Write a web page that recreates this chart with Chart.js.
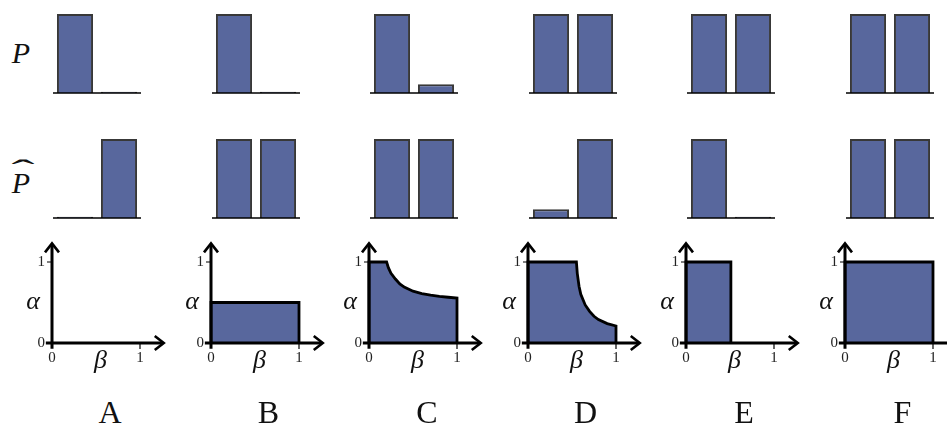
<!DOCTYPE html>
<html>
<head>
<meta charset="utf-8">
<script src="https://cdn.jsdelivr.net/npm/chart.js@4.4.0/dist/chart.umd.min.js"></script>
<style>
body{margin:0;background:#fff;width:947px;height:429px;position:relative;overflow:hidden;font-family:"Liberation Serif",serif}
canvas{position:absolute}
.txt{position:absolute;transform:translate(-50%,-50%);white-space:nowrap;color:#111;line-height:1}
.row{font-style:italic;font-size:30px}
.hat{font-size:30px;transform:translate(-50%,-50%) scaleX(2.3)}
.col{font-size:32px}
</style>
</head>
<body>
<script>
// data
const columns = ['A', 'B', 'C', 'D', 'E', 'F'];
const barLabels = ['1', '2'];
const pValues = [[1, 0.015], [1, 0.015], [1, 0.11], [1, 1], [1, 1], [1, 1]];
const pHatValues = [[0.015, 1], [1, 1], [1, 1], [0.11, 1], [1, 0.015], [1, 1]];

// alpha-beta regions, points as [beta, alpha]
const regionA = [];
const regionB = [[0, 0], [0, 0.5], [1, 0.5], [1, 0]];
const regionC = [[0, 0], [0, 1], [0.2, 1], [0.22, 0.93], [0.25, 0.86], [0.3, 0.79], [0.35, 0.73],
  [0.4, 0.69], [0.5, 0.64], [0.6, 0.61], [0.7, 0.59], [0.8, 0.575], [0.9, 0.565], [1, 0.555], [1, 0]];
const regionD = [[0, 0], [0, 1], [0.55, 1], [0.56, 0.86], [0.58, 0.7], [0.6, 0.6], [0.65, 0.47],
  [0.7, 0.39], [0.75, 0.33], [0.8, 0.29], [0.9, 0.24], [1, 0.21], [1, 0]];
const regionE = [[0, 0], [0, 1], [0.51, 1], [0.51, 0]];
const regionF = [[0, 0], [0, 1], [1, 1], [1, 0]];
const regions = [regionA, regionB, regionC, regionD, regionE, regionF];

const fillColor = '#58679d';
const colStep = 158.5;

function addCanvas(left, top, w, h) {
  const c = document.createElement('canvas');
  c.width = w; c.height = h;
  c.style.left = left + 'px';
  c.style.top = top + 'px';
  document.body.appendChild(c);
  return c;
}

function addText(text, x, y, cls) {
  const d = document.createElement('div');
  d.className = 'txt ' + cls;
  d.style.left = x + 'px';
  d.style.top = y + 'px';
  d.textContent = text;
  document.body.appendChild(d);
}

const baseline = {
  id: 'baseline',
  afterDatasetsDraw(chart) {
    const {ctx, chartArea, scales} = chart;
    const y0 = scales.y.getPixelForValue(0);
    ctx.save();
    ctx.strokeStyle = '#000';
    ctx.lineWidth = 1.3;
    ctx.beginPath();
    ctx.moveTo(chartArea.left, y0);
    ctx.lineTo(chartArea.right, y0);
    ctx.stroke();
    ctx.restore();
  }
};

function barChart(left, top, vals) {
  const c = addCanvas(left - 4, top - 8, 96, 92);
  new Chart(c, {
    type: 'bar',
    data: {
      labels: barLabels,
      datasets: [{
        data: vals,
        backgroundColor: fillColor,
        borderColor: '#383838',
        borderWidth: 2,
        categoryPercentage: 1,
        barPercentage: 0.82
      }]
    },
    options: {
      responsive: false,
      animation: false,
      layout: {padding: {left: 4, right: 4, top: 8, bottom: 5}},
      plugins: {legend: {display: false}, tooltip: {enabled: false}},
      scales: {
        x: {display: false},
        y: {display: false, min: 0, max: 1}
      }
    },
    plugins: [baseline]
  });
}

const axes = {
  id: 'axes',
  afterDatasetsDraw(chart) {
    const {ctx, scales: {x, y}} = chart;
    const x0 = x.getPixelForValue(0), y0 = y.getPixelForValue(0);
    const x1 = x.getPixelForValue(1), y1 = y.getPixelForValue(1);
    const xEnd = x.getPixelForValue(1.27), yEnd = y.getPixelForValue(1.23);
    ctx.save();
    ctx.strokeStyle = '#000';
    ctx.lineWidth = 3;
    ctx.beginPath();
    ctx.moveTo(x.getPixelForValue(-0.07), y0); ctx.lineTo(xEnd - 1, y0);
    ctx.moveTo(x0, y.getPixelForValue(-0.07)); ctx.lineTo(x0, yEnd + 1);
    ctx.stroke();
    ctx.lineWidth = 2.6;
    ctx.lineJoin = 'miter';
    ctx.beginPath();
    ctx.moveTo(xEnd - 9, y0 - 7); ctx.lineTo(xEnd, y0); ctx.lineTo(xEnd - 9, y0 + 7);
    ctx.moveTo(x0 - 7, yEnd + 9); ctx.lineTo(x0, yEnd); ctx.lineTo(x0 + 7, yEnd + 9);
    ctx.stroke();
    // tick marks
    ctx.lineWidth = 1.2;
    ctx.beginPath();
    ctx.moveTo(x0 - 5, y1); ctx.lineTo(x0, y1);
    ctx.moveTo(x1, y0); ctx.lineTo(x1, y0 + 6);
    ctx.stroke();
    // tick labels
    ctx.fillStyle = '#222';
    ctx.font = '15px "Liberation Serif"';
    ctx.textAlign = 'right';
    ctx.textBaseline = 'middle';
    ctx.fillText('0', x0 - 7, y0);
    ctx.fillText('1', x0 - 7, y1);
    ctx.textAlign = 'center';
    ctx.fillText('0', x0, y0 + 15);
    ctx.fillText('1', x1, y0 + 15);
    // axis names
    ctx.fillStyle = '#111';
    ctx.font = 'italic 26px "Liberation Serif"';
    ctx.fillText('α', x0 - 19, y.getPixelForValue(0.5));
    ctx.fillText('β', x.getPixelForValue(0.55), y0 + 18);
    ctx.restore();
  }
};

function regionChart(ox, pts) {
  const c = addCanvas(ox - 52, 236, 170, 140);
  new Chart(c, {
    type: 'scatter',
    data: {
      datasets: [{
        data: pts.map(p => ({x: p[0], y: p[1]})),
        showLine: true,
        fill: 'origin',
        backgroundColor: fillColor,
        borderColor: '#000',
        borderWidth: 2.8,
        pointRadius: 0,
        tension: 0,
        clip: false
      }]
    },
    options: {
      responsive: false,
      animation: false,
      layout: {padding: {left: 52, right: 30, top: 26, bottom: 33}},
      plugins: {legend: {display: false}, tooltip: {enabled: false}},
      scales: {
        x: {type: 'linear', display: false, min: 0, max: 1},
        y: {display: false, min: 0, max: 1}
      }
    },
    plugins: [axes]
  });
}

columns.forEach((name, i) => {
  const bx = 53 + colStep * i;
  barChart(bx, 14, pValues[i]);
  barChart(bx, 139, pHatValues[i]);
  regionChart(52 + colStep * i, regions[i]);
  addText(name, 110 + colStep * i, 412, 'col');
});

addText('P', 21, 53, 'row');
addText('P', 21, 183, 'row');
addText('ˆ', 23, 170, 'hat');
</script>
</body>
</html>
